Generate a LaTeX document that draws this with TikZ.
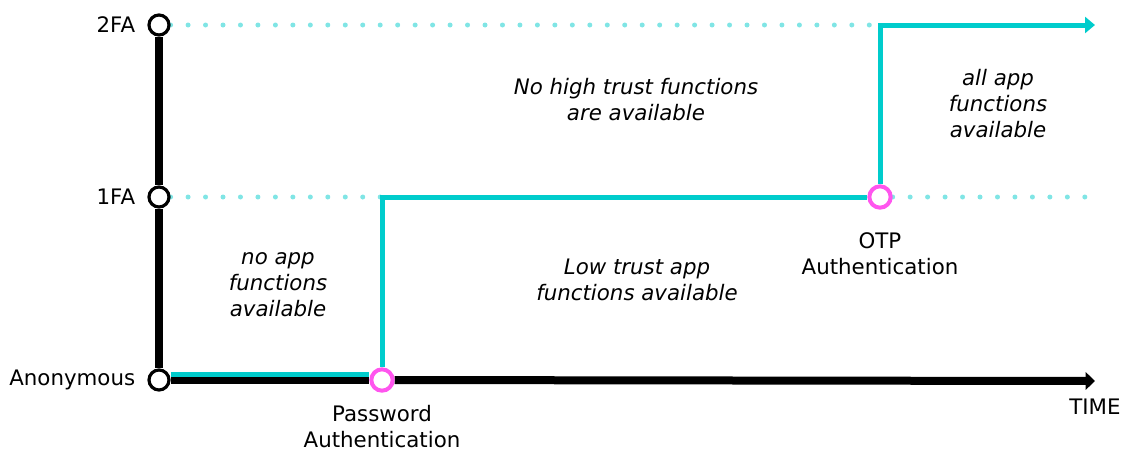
\documentclass[tikz,border=0pt]{standalone}
\usepackage{fontspec}
\setmainfont{DejaVu Sans}
\usetikzlibrary{arrows.meta,positioning,backgrounds}
\definecolor{trustcyan}{RGB}{0,204,204}
\definecolor{dotcyan}{RGB}{128,229,229}
\definecolor{authpink}{RGB}{255,85,238}
\tikzset{
  lvl/.style={circle, draw=black, line width=2.4pt, fill=white, minimum size=15pt, inner sep=0pt},
  authpt/.style={circle, draw=authpink, line width=3pt, fill=white, minimum size=16pt, inner sep=0pt},
  axisline/.style={draw=black, line width=6pt},
  trustline/.style={draw=trustcyan, line width=3.75pt},
  dotline/.style={draw=dotcyan, line width=3.75pt, line cap=round, dash pattern=on 0pt off 13.1pt},
  lab/.style={font=\fontsize{16}{19.5}\selectfont, inner sep=0pt},
  note/.style={font=\fontsize{16}{19.5}\selectfont\itshape, align=center, inner sep=0pt}
}

\begin{document}
\begin{tikzpicture}[x=0.75pt,y=-0.75pt]
\useasboundingbox (0,0) rectangle (1126,450);

% trust levels
\node[lvl] (l2) at (159,25) {};
\node[lvl] (l1) at (159,197) {};
\node[lvl] (anon) at (159,380) {};
\node[lab, left=9pt of l2] {2FA};
\node[lab, left=9pt of l1] {1FA};
\node[lab, left=9pt of anon] {Anonymous};

% authentication steps
\node[authpt] (pwd) at (382,380) {};
\node[authpt] (otp) at (880,197) {};
\node[lab, align=center, below=9pt of pwd] {Password\\Authentication};
\node[lab, align=center, below=17pt of otp] {OTP\\Authentication};

\coordinate (tend) at (1095,381);
\coordinate (ctop) at (1095,25);
\coordinate (dend) at (1092,197);
\node[lab, below=13.5pt of tend] {TIME};

% what is available
\node[note] at (636,100) {No high trust functions\\are available};
\node[note] at (998,104) {all app\\functions\\available};
\node[note] at (278,285) {no app\\functions\\available};
\node[note] at (637,280) {Low trust app\\functions available};

\begin{scope}[on background layer]
% dotted level lines
\draw[dotline] (l2) -- (otp |- l2);
\draw[dotline] (l1) -- (pwd |- l1);
\draw[dotline] (otp) -- (dend);
% axes
\draw[axisline] (l2) -- (l1);
\draw[axisline] (l1) -- (anon);
\draw[axisline] (anon) -- (pwd);
\draw[axisline, -{Triangle[length=7pt,width=13pt]}] (pwd) -- (tend);
% trust path
\draw[trustline, transform canvas={yshift=4.5pt}] (anon) -- (pwd);
\draw[trustline] (pwd) |- (otp);
\draw[trustline, -{Triangle[length=7.5pt,width=12pt]}] (otp) |- (ctop);
\end{scope}
\end{tikzpicture}
\end{document}
